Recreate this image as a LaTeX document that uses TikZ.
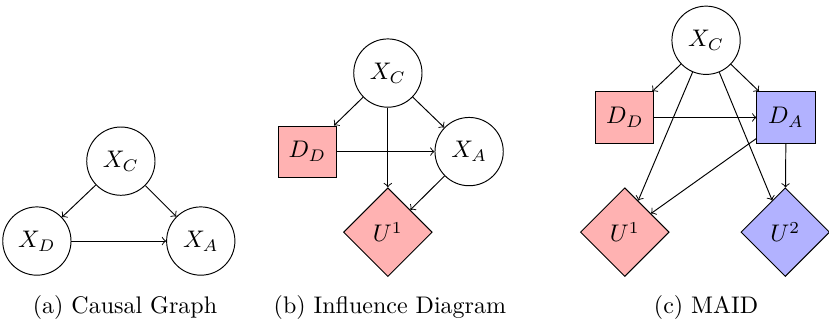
\documentclass[tikz,border=0pt]{standalone}
\usetikzlibrary{shapes.geometric}
\begin{document}
\begin{tikzpicture}[
  chance/.style={draw, circle, minimum size=1cm, inner sep=1pt},
  decision/.style={draw, rectangle, minimum width=0.85cm, minimum height=0.75cm},
  utility/.style={draw, diamond, minimum size=1.3cm, inner sep=1pt},
  pone/.style={fill=red!30},
  ptwo/.style={fill=blue!30}]
\useasboundingbox (0,0) rectangle (12.14,-4.715);
\node[chance] (xc1) at (1.77,-2.36) {$X_C$};
\node[chance] (xd1) at (0.54,-3.53) {$X_D$};
\node[chance] (xa1) at (2.94,-3.53) {$X_A$};
\node (capa) at (1.83,-4.50) {(a) Causal Graph};
\draw[->] (xc1) -- (xd1);
\draw[->] (xc1) -- (xa1);
\draw[->] (xd1) -- (xa1);
\node[chance] (xc2) at (5.68,-1.07) {$X_C$};
\node[decision, pone] (dd2) at (4.50,-2.22) {$D_D$};
\node[chance] (xa2) at (6.87,-2.22) {$X_A$};
\node[utility, pone] (u2) at (5.68,-3.40) {$U^1$};
\node (capb) at (5.71,-4.50) {(b) Influence Diagram};
\draw[->] (xc2) -- (dd2);
\draw[->] (xc2) -- (xa2);
\draw[->] (xc2) -- (u2);
\draw[->] (dd2) -- (xa2);
\draw[->] (xa2) -- (u2);
\node[chance] (xc3) at (10.34,-0.59) {$X_C$};
\node[decision, pone] (dd3) at (9.15,-1.72) {$D_D$};
\node[decision, ptwo] (da3) at (11.51,-1.72) {$D_A$};
\node[utility, pone] (u31) at (9.15,-3.40) {$U^1$};
\node[utility, ptwo] (u32) at (11.50,-3.40) {$U^2$};
\node (capc) at (10.34,-4.50) {(c) MAID};
\draw[->] (xc3) -- (dd3);
\draw[->] (xc3) -- (da3);
\draw[->] (xc3) -- (u31);
\draw[->] (xc3) -- (u32);
\draw[->] (dd3) -- (da3);
\draw[->] (da3) -- (u31);
\draw[->] (da3) -- (u32);
\end{tikzpicture}
\end{document}
